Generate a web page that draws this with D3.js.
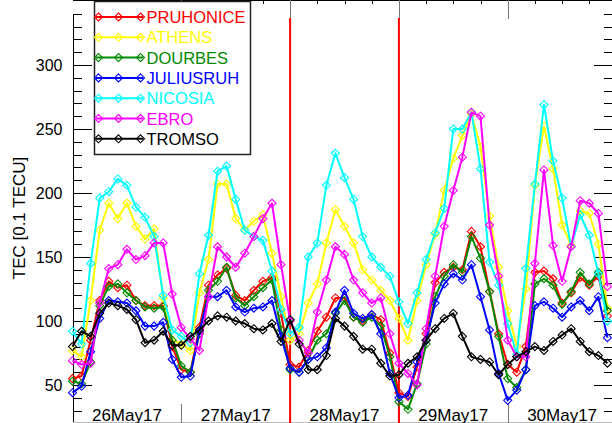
<!doctype html>
<html>
<head>
<style>
    body { margin: 0; background: #fff; }
    svg { display: block; }
    text { font-family: "Liberation Sans", Arial, sans-serif; }
    .axis path, .axis line { shape-rendering: crispEdges; }
</style>
<script src="https://cdnjs.cloudflare.com/ajax/libs/d3/7.8.5/d3.min.js"></script>
</head>
<body>
<svg width="612" height="423"></svg>
<script>

// stations, in legend order (also the drawing order)
var stations = ["PRUHONICE", "ATHENS", "DOURBES", "JULIUSRUH", "NICOSIA", "EBRO", "TROMSO"];
var colors = ["#ff0000", "#ffff00", "#008a00", "#0000ff", "#00ffff", "#ff00ff", "#000000"];

// 2-hourly samples, hours since 26May17 00 UT
var hours = d3.range(0, 120, 2);

var pruhonice = [55, 57, 85, 116, 131, 126, 128, 116, 112, 112, 112, 80, 62,
    60, 95, 128, 136, 141, 120, 116, 124, 131, 134, 106, 66,
    64, 77, 92, 103, 118, 118, 103, 100, 105, 101, 75, 44,
    41, 64, 90, 130, 138, 142, 140, 170, 158, 123, 90, 66,
    60, 80, 138, 139, 133, 114, 122, 134, 128, 135, 104];
var athens = [77, 72, 116, 171, 192, 180, 192, 174, 164, 172, 118, 85, 82,
    77, 122, 148, 207, 207, 180, 171, 178, 183, 153, 119, 85,
    90, 114, 129, 161, 187, 174, 161, 140, 132, 124, 116, 102,
    85, 116, 144, 168, 202, 227, 245, 262, 236, 182, 142, 108,
    80, 125, 206, 252, 219, 175, 159, 186, 184, 160, 110];
var dourbes = [53, 51, 68, 112, 127, 129, 122, 116, 111, 110, 111, 85, 65,
    60, 90, 124, 131, 142, 118, 112, 119, 126, 132, 93, 62,
    60, 70, 85, 90, 106, 116, 103, 99, 103, 96, 72, 37,
    31, 51, 82, 119, 135, 144, 138, 166, 149, 123, 88, 55,
    48, 62, 129, 133, 128, 113, 123, 138, 129, 138, 108];
var juliusruh = [44, 49, 76, 102, 116, 115, 114, 108, 96, 96, 99, 70, 56,
    57, 92, 119, 119, 124, 111, 107, 110, 111, 116, 88, 63,
    60, 70, 72, 79, 107, 124, 106, 102, 105, 90, 59, 40,
    42, 68, 85, 114, 129, 137, 132, 144, 119, 93, 59, 38,
    46, 62, 112, 115, 110, 103, 111, 116, 108, 119, 87];
var nicosia = [92, 82, 145, 196, 201, 211, 206, 189, 181, 166, 120, 93, 88,
    83, 137, 167, 217, 221, 195, 171, 166, 163, 139, 109, 90,
    95, 150, 161, 206, 231, 212, 195, 166, 150, 142, 135, 115,
    98, 122, 148, 169, 188, 250, 250, 263, 219, 146, 128, 98,
    74, 141, 207, 269, 225, 196, 158, 183, 167, 137, 100];
var ebro = [69, 66, 67, 114, 141, 144, 156, 148, 151, 161, 161, 121, 95,
    86, 77, 119, 158, 150, 142, 153, 166, 180, 192, 144, 100,
    85, 75, 107, 132, 158, 152, 132, 122, 114, 118, 90, 67,
    59, 50, 94, 135, 174, 202, 228, 263, 260, 175, 135, 85,
    72, 72, 145, 218, 159, 131, 158, 194, 192, 184, 127];
var tromso = [80, 92, 88, 106, 114, 112, 109, 101, 83, 85, 92, 81, 81,
    88, 93, 100, 104, 103, 100, 98, 94, 93, 98, 84, 101,
    82, 62, 62, 73, 102, 96, 88, 78, 78, 67, 57, 58,
    67, 72, 85, 94, 102, 106, 88, 72, 70, 68, 58, 66,
    72, 76, 80, 77, 84, 89, 94, 84, 76, 73, 67];

var seriesValues = [pruhonice, athens, dourbes, juliusruh, nicosia, ebro, tromso];

var dayLabels = ["26May17", "27May17", "28May17", "29May17", "30May17"];
var eventHours = [48, 72];          // red vertical markers
var yTickLabels = [50, 100, 150, 200, 250, 300];

var svg = d3.select("svg");

var x = d3.scaleLinear().domain([0, 120]).range([72.5, 616.5]);
var y = d3.scaleLinear().domain([20, 340]).range([423.4, 13.8]);
var xEnd = 119.2;   // plot is cut a little before 31May
var left = x(0), right = x(xEnd), top = y(340), bottom = y(20);

var minorY = d3.range(20, 341, 10).filter(function(d) { return d % 50 !== 0; });
var majorY = d3.range(50, 341, 50);
var sixHours = d3.range(6, xEnd, 6).filter(function(d) { return d % 24 !== 0; });
var dayTicks = d3.range(24, xEnd, 24);

// left axis
svg.append("g").attr("class", "axis")
   .attr("transform", "translate(" + left + ",0)")
   .call(d3.axisLeft(y).tickValues(minorY).tickSize(-9).tickSizeOuter(0).tickFormat(""));
svg.append("g").attr("class", "axis")
   .attr("transform", "translate(" + left + ",0)")
   .call(d3.axisLeft(y).tickValues(majorY).tickSize(-19).tickSizeOuter(0).tickPadding(10)
        .tickFormat(function(d) { return yTickLabels.indexOf(d) >= 0 ? d : ""; }))
   .call(function(g) {
       g.selectAll("text").attr("font-size", "16px").attr("fill", "#000")
        .style("font-family", '"Liberation Sans", Arial, sans-serif');
   });

// right axis (ticks only)
svg.append("g").attr("class", "axis")
   .attr("transform", "translate(" + right + ",0)")
   .call(d3.axisRight(y).tickValues(minorY).tickSize(-9).tickSizeOuter(0).tickFormat(""));
svg.append("g").attr("class", "axis")
   .attr("transform", "translate(" + right + ",0)")
   .call(d3.axisRight(y).tickValues(majorY).tickSize(-19).tickSizeOuter(0).tickFormat(""));

// top axis
svg.append("g").attr("class", "axis")
   .attr("transform", "translate(0," + top + ")")
   .call(d3.axisTop(x).tickValues(sixHours).tickSize(-4).tickSizeOuter(0).tickFormat(""));
svg.append("g").attr("class", "axis")
   .attr("transform", "translate(0," + top + ")")
   .call(d3.axisTop(x).tickValues(dayTicks).tickSize(-19).tickSizeOuter(0).tickFormat(""))
   .call(function(g) {
       g.select(".domain").remove();
       g.selectAll("line").attr("stroke", "#777");
   });

// bottom axis: day ticks and light frame line
svg.append("g").attr("class", "axis")
   .attr("transform", "translate(0," + bottom + ")")
   .call(d3.axisBottom(x).tickValues(dayTicks).tickSize(-19).tickSizeOuter(0).tickFormat(""))
   .call(function(g) {
       g.select(".domain").attr("stroke", "#bbb").attr("d", "M" + left + ",-1H" + right);
       g.selectAll("line").attr("stroke", "#777");
   });

// day labels
svg.append("g").selectAll("text")
   .data(dayLabels)
   .enter().append("text")
   .attr("x", function(d, i) { return x(i * 24 + 12); })
   .attr("y", 421)
   .attr("text-anchor", "middle")
   .attr("font-size", "17px")
   .text(function(d) { return d; });

// y title
svg.append("text")
   .attr("transform", "translate(25,218) rotate(-90)")
   .attr("text-anchor", "middle")
   .attr("font-size", "17px")
   .text("TEC [0.1 TECU]");

// red event lines
svg.append("g").selectAll("line")
   .data(eventHours)
   .enter().append("line")
   .attr("x1", function(d) { return x(d); })
   .attr("x2", function(d) { return x(d); })
   .attr("y1", 18)
   .attr("y2", bottom)
   .attr("stroke", "#ff0000")
   .attr("stroke-width", 2);

var diamond = "M0,-4L4,0L0,4L-4,0Z";

var line = d3.line()
    .x(function(d, i) { return x(hours[i]); })
    .y(function(d) { return y(d); });

seriesValues.forEach(function(vals, k) {
    var g = svg.append("g");
    g.append("path")
     .datum(vals)
     .attr("d", line)
     .attr("fill", "none")
     .attr("stroke", colors[k])
     .attr("stroke-width", 2)
     .attr("stroke-linejoin", "round");
    g.selectAll(".mk")
     .data(vals)
     .enter().append("path")
     .attr("class", "mk")
     .attr("d", diamond)
     .attr("transform", function(d, i) { return "translate(" + x(hours[i]) + "," + y(d) + ")"; })
     .attr("fill", "none")
     .attr("stroke", colors[k])
     .attr("stroke-width", 1.1);
});

// legend
var legend = svg.append("g");
legend.append("rect")
      .attr("x", 94.5).attr("y", 1.5)
      .attr("width", 156).attr("height", 153)
      .attr("fill", "#fff")
      .attr("stroke", "#222")
      .attr("stroke-width", 1.5);

var rows = legend.selectAll(".row")
    .data(stations)
    .enter().append("g")
    .attr("class", "row")
    .attr("transform", function(d, i) { return "translate(0," + (17 + i * 20.3) + ")"; });

rows.append("line")
    .attr("x1", 96).attr("x2", 143)
    .attr("stroke", function(d, i) { return colors[i]; })
    .attr("stroke-width", 2);

rows.selectAll(".lm")
    .data(function(d, i) { return [98.5, 118.5, 140.5].map(function(p) { return {p: p, c: colors[i]}; }); })
    .enter().append("path")
    .attr("class", "lm")
    .attr("d", diamond)
    .attr("transform", function(d) { return "translate(" + d.p + ",0)"; })
    .attr("fill", "none")
    .attr("stroke", function(d) { return d.c; })
    .attr("stroke-width", 1.1);

rows.append("text")
    .attr("x", 146.5)
    .attr("y", 6)
    .attr("font-size", "16.5px")
    .attr("fill", function(d, i) { return colors[i]; })
    .text(function(d) { return d; });

</script>
</body>
</html>
